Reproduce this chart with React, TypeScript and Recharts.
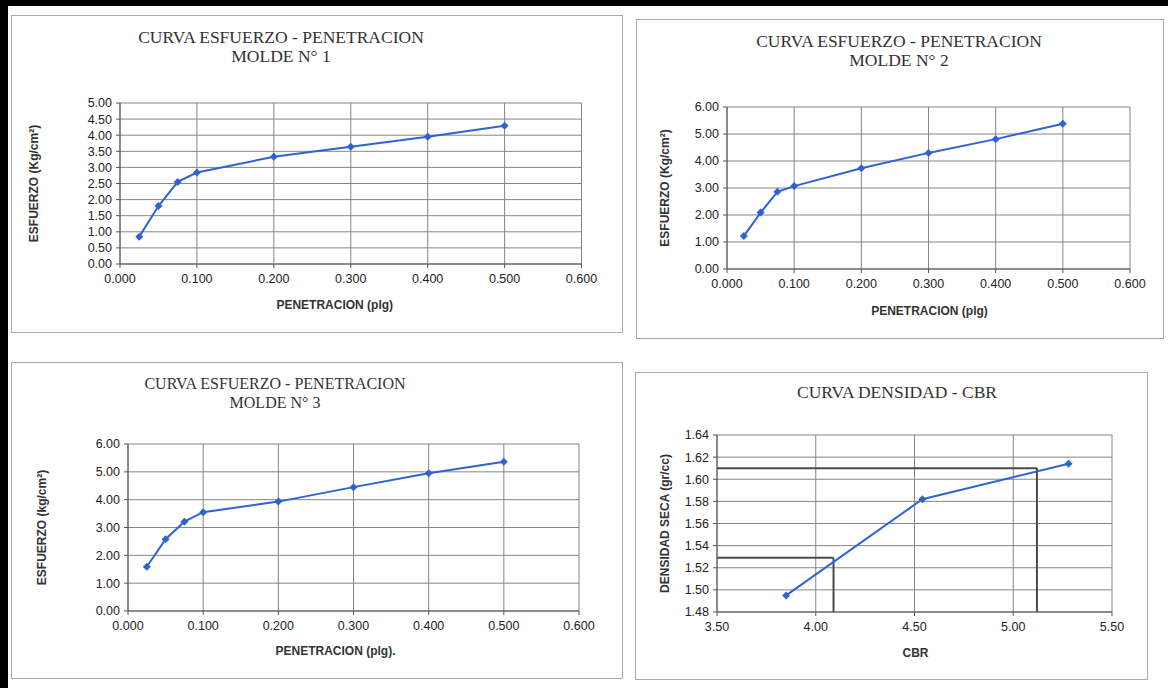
import { CartesianGrid, Line, LineChart, ReferenceLine, XAxis, YAxis } from "recharts";

// penetracion (plg) de cada lectura
const PENETRACION = [0.025, 0.05, 0.075, 0.1, 0.2, 0.3, 0.4, 0.5];
// esfuerzo (kg/cm2) por molde
const MOLDE_1 = [0.85, 1.8, 2.55, 2.84, 3.33, 3.64, 3.95, 4.29];
const MOLDE_2 = [1.22, 2.09, 2.86, 3.07, 3.73, 4.3, 4.81, 5.38];
const MOLDE_3 = [1.59, 2.58, 3.21, 3.55, 3.93, 4.45, 4.95, 5.36];

const PEN_TICKS = [0, 0.1, 0.2, 0.3, 0.4, 0.5, 0.6];
const ESF_TICKS_M1 = [0, 0.5, 1, 1.5, 2, 2.5, 3, 3.5, 4, 4.5, 5];
const ESF_TICKS = [0, 1, 2, 3, 4, 5, 6];

// densidad - CBR
const CBR = [3.85, 4.54, 5.28];
const DENSIDAD = [1.495, 1.582, 1.614];
const CBR_TICKS = [3.5, 4, 4.5, 5, 5.5];
const DENS_TICKS = [1.48, 1.5, 1.52, 1.54, 1.56, 1.58, 1.6, 1.62, 1.64];
// lecturas marcadas sobre la curva
const CBR_LECTURA = [4.09, 5.12];
const DENS_LECTURA = [1.529, 1.61];

const SANS = "'Liberation Sans', Arial, sans-serif";
const SERIF = "'Liberation Serif', 'Times New Roman', serif";
const BLUE = "#2f63d3";

const YW = 100;
const XH = 50;
const MT = 10;
const MR = 20;

function Diamond(props: any) {
  const { cx, cy, index } = props;
  if (cx == null || cy == null) return null;
  const s = 4;
  return (
    <path
      key={index}
      d={`M${cx},${cy - s}L${cx + s},${cy}L${cx},${cy + s}L${cx - s},${cy}Z`}
      fill={BLUE}
    />
  );
}

type Plot = { l: number; t: number; r: number; b: number };

function Chart(props: {
  plot: Plot;
  xs: number[];
  ys: number[];
  xTicks: number[];
  yTicks: number[];
  xDigits: number;
  yDigits: number;
  xLabel: string;
  yLabel: string;
  yLabelDist: number;
  xLabelDx: number;
  xLabelBase: number;
  refs?: { x: number; y: number }[];
}) {
  const { plot, xs, ys, xTicks, yTicks } = props;
  const data = xs.map((x, i) => ({ x, y: ys[i] }));
  const width = plot.r - plot.l + YW + MR;
  const height = plot.b - plot.t + MT + XH;
  const xMin = xTicks[0];
  const yMin = yTicks[0];
  return (
    <div style={{ position: "absolute", left: plot.l - YW, top: plot.t - MT }}>
      <LineChart width={width} height={height} data={data} margin={{ top: MT, right: MR, bottom: 0, left: 0 }}>
        <CartesianGrid stroke="#858585" strokeWidth={1} />
        <XAxis
          type="number"
          dataKey="x"
          domain={[xTicks[0], xTicks[xTicks.length - 1]]}
          ticks={xTicks}
          interval={0}
          height={XH}
          tickFormatter={(v: number) => v.toFixed(props.xDigits)}
          tick={{ fontSize: 12.5, fill: "#222", fontFamily: SANS }}
          tickSize={4}
          tickMargin={6}
          stroke="#555"
          label={{
            value: props.xLabel,
            position: "insideBottom",
            offset: plot.b + XH - props.xLabelBase,
            dx: props.xLabelDx,
            style: { fontSize: 12, fontWeight: "bold", fill: "#333", fontFamily: SANS },
          }}
        />
        <YAxis
          type="number"
          dataKey="y"
          domain={[yTicks[0], yTicks[yTicks.length - 1]]}
          ticks={yTicks}
          interval={0}
          width={YW}
          tickFormatter={(v: number) => v.toFixed(props.yDigits)}
          tick={{ fontSize: 12.5, fill: "#222", fontFamily: SANS }}
          tickSize={4}
          tickMargin={4}
          stroke="#555"
          label={{
            value: props.yLabel,
            angle: -90,
            position: "insideLeft",
            offset: YW - props.yLabelDist,
            style: { textAnchor: "middle", fontSize: 12, fontWeight: "bold", fill: "#333", fontFamily: SANS },
          }}
        />
        {(props.refs || []).map((p, i) => (
          <ReferenceLine
            key={"h" + i}
            segment={[
              { x: xMin, y: p.y },
              { x: p.x, y: p.y },
            ]}
            stroke="#4a4a4a"
            strokeWidth={2}
          />
        ))}
        {(props.refs || []).map((p, i) => (
          <ReferenceLine
            key={"v" + i}
            segment={[
              { x: p.x, y: p.y },
              { x: p.x, y: yMin },
            ]}
            stroke="#4a4a4a"
            strokeWidth={2}
          />
        ))}
        <Line
          type="linear"
          dataKey="y"
          stroke={BLUE}
          strokeWidth={2}
          dot={Diamond}
          activeDot={false}
          isAnimationActive={false}
        />
      </LineChart>
    </div>
  );
}

function Box({ l, t, r, b }: Plot) {
  return (
    <div
      style={{
        position: "absolute",
        left: l,
        top: t,
        width: r - l,
        height: b - t,
        border: "1px solid #a8a8a8",
        boxSizing: "border-box",
      }}
    />
  );
}

function Title({ cx, top, lines, size }: { cx: number; top: number; lines: string[]; size: number }) {
  return (
    <div
      style={{
        position: "absolute",
        left: cx - 200,
        top,
        width: 400,
        textAlign: "center",
        fontFamily: SERIF,
        fontSize: size,
        lineHeight: "19px",
        color: "#333",
      }}
    >
      {lines.map((s) => (
        <div key={s}>{s}</div>
      ))}
    </div>
  );
}

export default function App() {
  return (
    <div
      style={{
        position: "absolute",
        left: 0,
        top: 0,
        width: 1168,
        height: 688,
        background: "#fff",
        overflow: "hidden",
      }}
    >
      <div style={{ position: "absolute", left: 0, top: 0, width: 1168, height: 6, background: "#000" }} />
      <div style={{ position: "absolute", left: 0, top: 0, width: 8, height: 688, background: "#000" }} />

      <Box l={11} t={15} r={623} b={333} />
      <Box l={636} t={19} r={1164} b={339} />
      <Box l={11} t={362} r={623} b={679} />
      <Box l={635} t={372} r={1148} b={680} />

      <Title cx={281} top={28} lines={["CURVA ESFUERZO - PENETRACION", "MOLDE N° 1"]} size={17.5} />
      <Title cx={899} top={32} lines={["CURVA ESFUERZO - PENETRACION", "MOLDE N° 2"]} size={17.5} />
      <Title cx={275} top={374} lines={["CURVA ESFUERZO - PENETRACION", "MOLDE N° 3"]} size={16} />
      <Title cx={897} top={383} lines={["CURVA DENSIDAD - CBR"]} size={17.5} />

      <Chart
        plot={{ l: 119.5, t: 103, r: 581, b: 264 }}
        xs={PENETRACION}
        ys={MOLDE_1}
        xTicks={PEN_TICKS}
        yTicks={ESF_TICKS_M1}
        xDigits={3}
        yDigits={2}
        xLabel="PENETRACION (plg)"
        yLabel="ESFUERZO (Kg/cm²)"
        yLabelDist={86}
        xLabelDx={-16}
        xLabelBase={308.5}
      />
      <Chart
        plot={{ l: 727, t: 107, r: 1130, b: 269 }}
        xs={PENETRACION}
        ys={MOLDE_2}
        xTicks={PEN_TICKS}
        yTicks={ESF_TICKS}
        xDigits={3}
        yDigits={2}
        xLabel="PENETRACION (plg)"
        yLabel="ESFUERZO (Kg/cm²)"
        yLabelDist={62}
        xLabelDx={1}
        xLabelBase={314.5}
      />
      <Chart
        plot={{ l: 128, t: 444, r: 579, b: 611 }}
        xs={PENETRACION}
        ys={MOLDE_3}
        xTicks={PEN_TICKS}
        yTicks={ESF_TICKS}
        xDigits={3}
        yDigits={2}
        xLabel="PENETRACION (plg)."
        yLabel="ESFUERZO (kg/cm²)"
        yLabelDist={86}
        xLabelDx={-18}
        xLabelBase={655}
      />
      <Chart
        plot={{ l: 717, t: 435, r: 1112, b: 612 }}
        xs={CBR}
        ys={DENSIDAD}
        xTicks={CBR_TICKS}
        yTicks={DENS_TICKS}
        xDigits={2}
        yDigits={2}
        xLabel="CBR"
        yLabel="DENSIDAD SECA (gr/cc)"
        yLabelDist={52}
        xLabelDx={1}
        xLabelBase={657}
        refs={CBR_LECTURA.map((x, i) => ({ x, y: DENS_LECTURA[i] }))}
      />
    </div>
  );
}
